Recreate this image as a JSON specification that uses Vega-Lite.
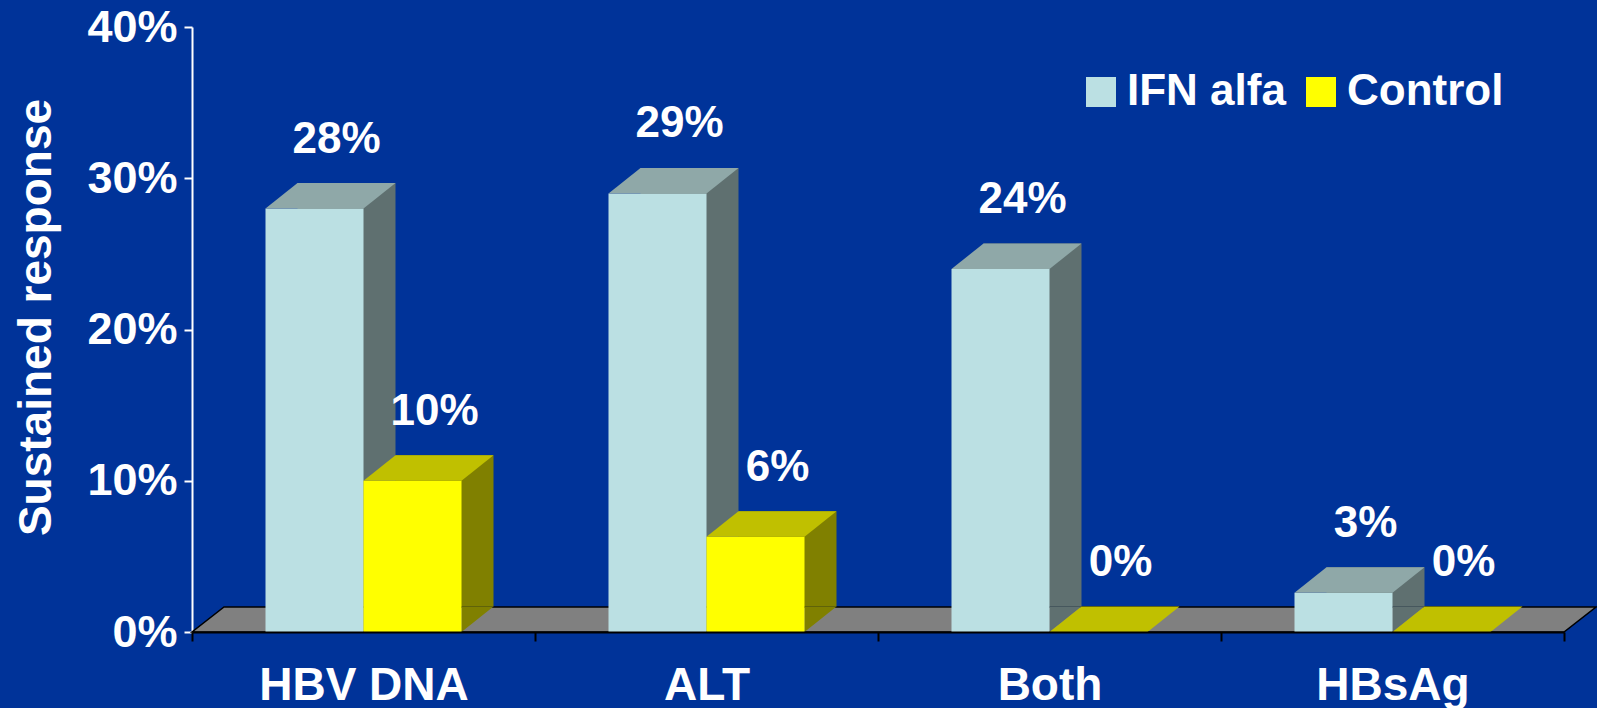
{
  "$schema": "https://vega.github.io/schema/vega-lite/v6.json",
  "width": 1372,
  "height": 605,
  "autosize": {"type": "none"},
  "padding": {"left": 192, "top": 27, "right": 33, "bottom": 76},
  "background": "#003399",
  "config": {"view": {"stroke": null}, "font": "Liberation Sans"},
  "data": {
    "values": [
      {"category": "HBV DNA", "group": "IFN alfa", "value": 0.28},
      {"category": "HBV DNA", "group": "Control", "value": 0.10},
      {"category": "ALT", "group": "IFN alfa", "value": 0.29},
      {"category": "ALT", "group": "Control", "value": 0.063},
      {"category": "Both", "group": "IFN alfa", "value": 0.24},
      {"category": "Both", "group": "Control", "value": 0},
      {"category": "HBsAg", "group": "IFN alfa", "value": 0.026},
      {"category": "HBsAg", "group": "Control", "value": 0}
    ]
  },
  "encoding": {
    "x": {
      "field": "category",
      "type": "nominal",
      "scale": {"domain": ["HBV DNA", "ALT", "Both", "HBsAg"], "paddingInner": 0, "paddingOuter": 0},
      "axis": {
        "title": null,
        "labelAngle": 0,
        "labelLimit": 0,
        "labelFont": "Liberation Sans",
        "labelFontWeight": "bold",
        "labelFontSize": 46,
        "labelColor": "white",
        "labelBaseline": "alphabetic",
        "labelPadding": 58,
        "tickBand": "extent",
        "tickSize": 9,
        "tickWidth": 2,
        "tickColor": "black",
        "domainColor": "black",
        "domainWidth": 2,
        "zindex": 1
      }
    },
    "y": {
      "field": "value",
      "type": "quantitative",
      "scale": {"domain": [0, 0.4]},
      "axis": {
        "title": "Sustained response",
        "values": [0, 0.1, 0.2, 0.3, 0.4],
        "format": ".0%",
        "grid": false,
        "labelFont": "Liberation Sans",
        "labelFontWeight": "bold",
        "labelFontSize": 45,
        "labelColor": "white",
        "labelPadding": 7,
        "tickSize": 8,
        "tickWidth": 2,
        "tickColor": "white",
        "domainColor": "white",
        "domainWidth": 2,
        "titleFont": "Liberation Sans",
        "titleFontWeight": "bold",
        "titleFontSize": 46,
        "titleColor": "white",
        "titleAngle": 270,
        "titleX": -142,
        "titleY": 290,
        "titleAlign": "center",
        "titleBaseline": "alphabetic"
      }
    }
  },
  "layer": [
    {
      "transform": [{"filter": "datum.category == 'ALT' && datum.group == 'IFN alfa'"}],
      "mark": {"type": "point", "shape": "M-514.5,0L857.5,0L889.5,-25L-482.5,-25Z", "size": 4, "filled": true, "fill": "#808080", "stroke": "black", "strokeWidth": 1.5, "opacity": 1},
      "encoding": {"y": {"datum": 0, "type": "quantitative"}}
    },
    {
      "transform": [{"filter": "datum.group == 'IFN alfa'"}],
      "mark": {"type": "bar", "width": 98, "xOffset": -17, "yOffset": -25.5, "y2Offset": -25.5, "fill": "#5F7070"}
    },
    {
      "transform": [{"filter": "datum.group == 'Control'"}],
      "mark": {"type": "bar", "width": 98, "xOffset": 81, "yOffset": -25.5, "y2Offset": -25.5, "fill": "#808000"}
    },
    {
      "transform": [{"filter": "datum.value > 0"}],
      "mark": {"type": "point", "shape": "M49,0L49,-25.5L81,-25.5Z", "size": 4, "filled": true, "opacity": 1},
      "encoding": {
        "xOffset": {"field": "group", "sort": ["IFN alfa", "Control"], "scale": {"paddingInner": 0, "paddingOuter": 0.75}},
        "y": {"datum": 0, "type": "quantitative"},
        "color": {"field": "group", "type": "nominal", "scale": {"domain": ["IFN alfa", "Control"], "range": ["#5F7070", "#808000"]}, "legend": null}
      }
    },
    {
      "mark": {"type": "bar"},
      "encoding": {
        "xOffset": {"field": "group", "sort": ["IFN alfa", "Control"], "scale": {"paddingInner": 0, "paddingOuter": 0.75}},
        "color": {
          "field": "group",
          "type": "nominal",
          "scale": {"domain": ["IFN alfa", "Control"], "range": ["#BBE0E3", "#FFFF00"]},
          "legend": {
            "title": null,
            "orient": "none",
            "legendX": 887,
            "legendY": 43,
            "direction": "horizontal",
            "symbolType": "square",
            "symbolSize": 900,
            "symbolStrokeWidth": 0,
            "symbolOpacity": 1,
            "labelFont": "Liberation Sans",
            "labelFontWeight": "bold",
            "labelFontSize": 44,
            "labelColor": "white",
            "labelOffset": 4,
            "columnPadding": 13,
            "padding": 0
          }
        }
      }
    },
    {
      "mark": {"type": "point", "shape": "M-49,0L49,0L81,-25.5L-17,-25.5Z", "size": 4, "filled": true, "opacity": 1},
      "encoding": {
        "xOffset": {"field": "group", "sort": ["IFN alfa", "Control"], "scale": {"paddingInner": 0, "paddingOuter": 0.75}},
        "color": {"field": "group", "type": "nominal", "scale": {"domain": ["IFN alfa", "Control"], "range": ["#8FA8A8", "#C0C000"]}, "legend": null}
      }
    },
    {
      "mark": {"type": "text", "dx": 22, "dy": -56, "baseline": "alphabetic", "align": "center", "font": "Liberation Sans", "fontWeight": "bold", "fontSize": 44, "fill": "white"},
      "encoding": {
        "xOffset": {"field": "group", "sort": ["IFN alfa", "Control"], "scale": {"paddingInner": 0, "paddingOuter": 0.75}},
        "text": {"field": "value", "type": "quantitative", "format": ".0%"}
      }
    }
  ],
  "resolve": {"scale": {"color": "independent"}}
}
